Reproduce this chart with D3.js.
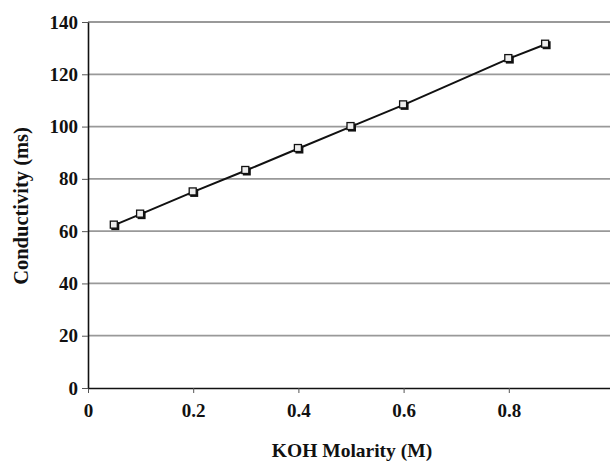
<!DOCTYPE html>
<html>
<head>
<meta charset="utf-8">
<script src="https://cdn.jsdelivr.net/npm/d3@7"></script>
<style>
	body { margin: 0; background: #fff; }
	svg text { font-family: "Liberation Serif", "Times New Roman", serif; font-weight: bold; fill: #111; }
</style>
</head>
<body>
<div id="chartContent"></div>
<script>
// values
var molarity = [0.05, 0.1, 0.2, 0.3, 0.4, 0.5, 0.6, 0.8, 0.87];
var conductivity = [62.3, 66.5, 75, 83.2, 91.6, 100, 108.3, 126, 131.5];
var xTicks = [0, 0.2, 0.4, 0.6, 0.8, 1];
var yTicks = [0, 20, 40, 60, 80, 100, 120, 140];

var width = 610, height = 461;
var margin = {top: 22, right: -4, bottom: 73, left: 88};
var plotW = width - margin.left - margin.right,
	plotH = height - margin.top - margin.bottom;

var svg = d3.select("#chartContent")
	.append("svg")
		.attr("width", width)
		.attr("height", height);

var g = svg.append("g")
	.attr("transform", "translate(" + margin.left + "," + margin.top + ")");

var x = d3.scaleLinear().domain([0, 1]).range([0, plotW]);
var y = d3.scaleLinear().domain([0, 140]).range([plotH, 0]);

// horizontal gridlines
g.selectAll(".grid")
	.data(yTicks.filter(function(d) { return d > 0; }))
	.enter()
	.append("line")
		.attr("x1", 0)
		.attr("x2", plotW)
		.attr("y1", function(d) { return y(d); })
		.attr("y2", function(d) { return y(d); })
		.attr("stroke", "#999")
		.attr("stroke-width", 1.8);

// axes
var xAxis = g.append("g")
	.attr("transform", "translate(0," + plotH + ")")
	.call(d3.axisBottom(x).tickValues(xTicks).tickSize(5).tickSizeOuter(0)
		.tickFormat(function(d) { return d; }));
var yAxis = g.append("g")
	.call(d3.axisLeft(y).tickValues(yTicks).tickSize(6).tickSizeOuter(0));

[xAxis, yAxis].forEach(function(a) {
	a.select(".domain").attr("stroke", "#111").attr("stroke-width", 1.6);
	a.selectAll(".tick line").attr("stroke", "#555").attr("stroke-width", 1);
	a.selectAll(".tick text").attr("font-size", 19).attr("font-family", null);
});
xAxis.selectAll(".tick text").attr("y", 29).attr("dy", 0);
yAxis.selectAll(".tick text").attr("x", -10);

// the line
var line = d3.line()
	.x(function(d, i) { return x(molarity[i]); })
	.y(function(d) { return y(d); });

g.append("path")
	.datum(conductivity)
	.attr("d", line)
	.attr("fill", "none")
	.attr("stroke", "#111")
	.attr("stroke-width", 2);

// markers (with a little shadow like the original)
g.selectAll(".shadow")
	.data(conductivity)
	.enter()
	.append("rect")
		.attr("x", function(d, i) { return x(molarity[i]) - 3; })
		.attr("y", function(d) { return y(d) - 3; })
		.attr("width", 8)
		.attr("height", 8)
		.attr("fill", "#111");

g.selectAll(".marker")
	.data(conductivity)
	.enter()
	.append("rect")
		.attr("x", function(d, i) { return x(molarity[i]) - 4; })
		.attr("y", function(d) { return y(d) - 4; })
		.attr("width", 7)
		.attr("height", 7)
		.attr("fill", "#eee")
		.attr("stroke", "#111")
		.attr("stroke-width", 1.3);

// axis titles
svg.append("text")
	.attr("x", 352)
	.attr("y", 457)
	.attr("text-anchor", "middle")
	.attr("font-size", 19.5)
	.text("KOH Molarity (M)");

svg.append("text")
	.attr("transform", "translate(28,206) rotate(-90)")
	.attr("text-anchor", "middle")
	.attr("font-size", 20.5)
	.text("Conductivity (ms)");
</script>
</body>
</html>
